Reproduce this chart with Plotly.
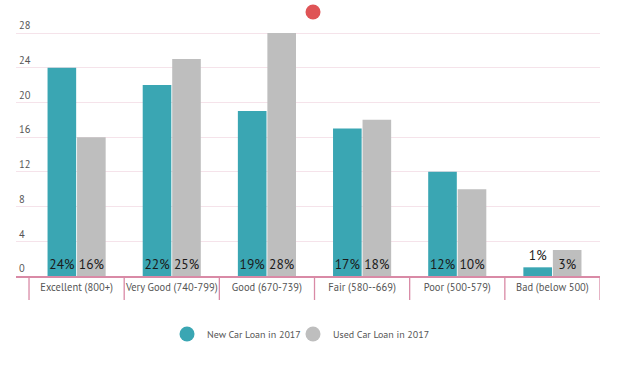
import plotly.graph_objects as go

categories = ["Excellent (800+)", "Very Good (740-799)", "Good (670-739)",
              "Fair (580--669)", "Poor (500-579)", "Bad (below 500)"]
new_loan = [24, 22, 19, 17, 12, 1]
used_loan = [16, 25, 28, 18, 10, 3]
series_names = ["New Car Loan in 2017", "Used Car Loan in 2017"]
y_ticks = [0, 4, 8, 12, 16, 20, 24, 28]

TEAL = "#3aa6b3"
GRAY = "#bebebe"
PINK = "#d98aa6"
GRID = "#f5e3ea"
FONT = "PT Sans, Lato, sans-serif"

PLOT_H = 260

def positions(vals):
    return ["outside" if v < 2 else "inside" for v in vals]

fig = go.Figure()
for vals, name, col in [(new_loan, series_names[0], TEAL), (used_loan, series_names[1], GRAY)]:
    fig.add_trace(go.Bar(
        x=categories, y=vals, name=name, marker=dict(color=col, line=dict(width=0)),
        text=[f"{v}%" for v in vals], textposition=positions(vals),
        insidetextanchor="start", textangle=0, constraintext="none",
        textfont=dict(family=FONT, size=13.5, color="#1a1a1a"),
        outsidetextfont=dict(family=FONT, size=13.5, color="#1a1a1a"),
        cliponaxis=False, showlegend=False, hoverinfo="skip"))
for name, col, lg in [(series_names[0], TEAL, "legend"), (series_names[1], GRAY, "legend2")]:
    fig.add_trace(go.Scatter(x=[None], y=[None], mode="markers", name=name, legend=lg,
                             marker=dict(symbol="circle", size=15, color=col)))

shapes = []
n = len(categories)
for i in range(n + 1):
    shapes.append(dict(type="line", xref="x", yref="paper", x0=i - 0.5, x1=i - 0.5,
                       y0=0, y1=-24 / PLOT_H, line=dict(color=PINK, width=1.3)))
shapes.append(dict(type="circle", xref="paper", yref="paper", xsizemode="pixel", ysizemode="pixel",
                   xanchor=0.5086, yanchor=1.0154, x0=-7.5, x1=7.5, y0=-7.5, y1=7.5,
                   fillcolor="#df5456", line=dict(width=0)))

legend_common = dict(orientation="h", xanchor="left", y=-0.223, yanchor="middle",
                     font=dict(family=FONT, size=10, color="#555555"), itemwidth=30,
                     bgcolor="rgba(0,0,0,0)")

fig.update_layout(
    width=620, height=365,
    margin=dict(l=16, r=20, t=16, b=89, autoexpand=False),
    paper_bgcolor="white", plot_bgcolor="white",
    barmode="group", bargap=0.38, bargroupgap=0.03,
    font=dict(family=FONT, color="#555555", size=10.5),
    shapes=shapes,
    legend=dict(x=0.2586, **legend_common),
    legend2=dict(x=0.4743, **legend_common),
    xaxis=dict(range=[-0.5 - 13 / 95, 5.5], showline=True, linecolor=PINK, linewidth=2,
               ticks="", showgrid=False, automargin=False,
               tickfont=dict(family=FONT, size=10.5, color="#555555")),
    yaxis=dict(range=[0, 29.96], tickvals=y_ticks, ticklabelposition="inside top",
               showgrid=True, gridcolor=GRID, gridwidth=1, zeroline=False, automargin=False,
               tickfont=dict(family=FONT, size=10.5, color="#555555")),
)

fig.write_html("out.html", config={"displayModeBar": False},
               post_script="document.body.style.margin='0px';")
